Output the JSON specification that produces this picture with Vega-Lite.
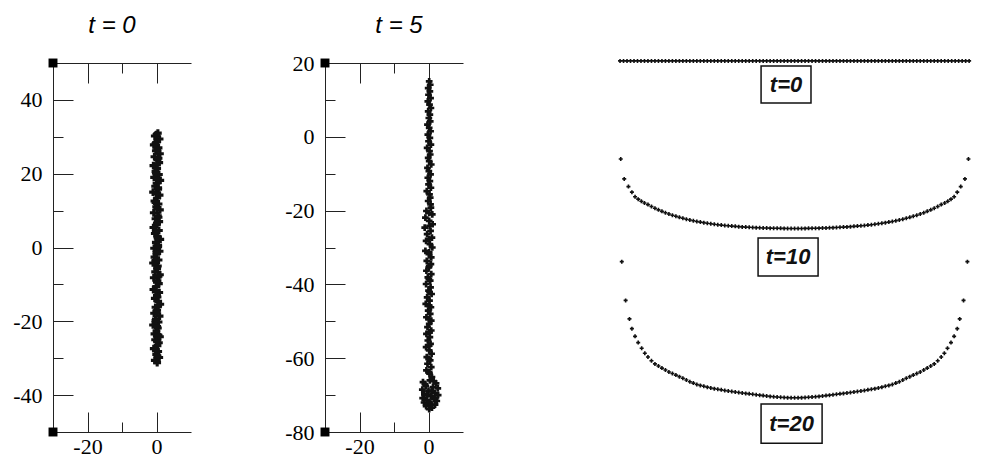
{
"$schema": "https://vega.github.io/schema/vega-lite/v6.json",
"padding": {"left": 12, "top": 13, "right": 5, "bottom": 5},
"background": "white",
"config": {
  "view": {"stroke": null},
  "axis": {"grid": false, "domainColor": "#222", "tickColor": "#222", "domainWidth": 1, "tickWidth": 1, "labelColor": "black", "labelFont": "Liberation Serif", "labelFontSize": 22, "title": null},
  "title": {"font": "Liberation Sans", "fontStyle": "italic", "fontWeight": "normal", "fontSize": 24, "color": "black", "anchor": "middle", "baseline": "alphabetic", "frame": "group"}
},
"datasets": {
  "p1": [
    {"x":0.4,"y":31.0},{"x":-0.5,"y":30.2},{"x":0.9,"y":29.4},{"x":0.1,"y":28.6},{"x":-0.8,"y":27.8},{"x":0.6,"y":27.0},{"x":-0.2,"y":26.2},{"x":1.0,"y":25.4},{"x":-0.6,"y":24.6},{"x":0.3,"y":23.8},
    {"x":0.8,"y":23.0},{"x":-0.9,"y":22.2},{"x":0.2,"y":21.4},{"x":-0.3,"y":20.6},{"x":0.7,"y":19.8},{"x":-0.7,"y":19.0},{"x":1.1,"y":18.2},{"x":0.0,"y":17.4},{"x":-0.4,"y":16.6},{"x":0.5,"y":15.8},
    {"x":-1.0,"y":15.0},{"x":0.9,"y":14.2},{"x":0.2,"y":13.4},{"x":-0.6,"y":12.6},{"x":0.6,"y":11.8},{"x":-0.1,"y":11.0},{"x":1.0,"y":10.2},{"x":-0.8,"y":9.4},{"x":0.4,"y":8.6},{"x":-0.3,"y":7.8},
    {"x":0.8,"y":7.0},{"x":0.1,"y":6.2},{"x":-0.9,"y":5.4},{"x":0.7,"y":4.6},{"x":-0.5,"y":3.8},{"x":0.3,"y":3.0},{"x":1.1,"y":2.2},{"x":-0.2,"y":1.4},{"x":0.5,"y":0.6},{"x":-0.7,"y":-0.2},
    {"x":0.9,"y":-1.0},{"x":0.0,"y":-1.8},{"x":-0.6,"y":-2.6},{"x":0.6,"y":-3.4},{"x":-1.0,"y":-4.2},{"x":0.4,"y":-5.0},{"x":0.2,"y":-5.8},{"x":-0.4,"y":-6.6},{"x":1.0,"y":-7.4},{"x":-0.8,"y":-8.2},
    {"x":0.3,"y":-9.0},{"x":0.7,"y":-9.8},{"x":-0.1,"y":-10.6},{"x":-0.9,"y":-11.4},{"x":0.8,"y":-12.2},{"x":0.1,"y":-13.0},{"x":-0.5,"y":-13.8},{"x":0.5,"y":-14.6},{"x":1.1,"y":-15.4},{"x":-0.3,"y":-16.2},
    {"x":0.2,"y":-17.0},{"x":-0.7,"y":-17.8},{"x":0.9,"y":-18.6},{"x":-0.2,"y":-19.4},{"x":0.6,"y":-20.2},{"x":-1.0,"y":-21.0},{"x":0.4,"y":-21.8},{"x":0.0,"y":-22.6},{"x":-0.6,"y":-23.4},{"x":1.0,"y":-24.2},
    {"x":-0.4,"y":-25.0},{"x":0.7,"y":-25.8},{"x":0.3,"y":-26.6},{"x":-0.8,"y":-27.4},{"x":0.5,"y":-28.2},{"x":-0.1,"y":-29.0},{"x":0.8,"y":-29.8},{"x":-0.5,"y":-30.6},{"x":0.2,"y":-31.2},
    {"x":0.0,"y":30.6},{"x":0.2,"y":26.6},{"x":0.1,"y":22.6},{"x":0.3,"y":18.6},{"x":0.0,"y":14.6},{"x":0.2,"y":10.6},{"x":0.1,"y":6.6},{"x":0.3,"y":2.6},{"x":0.0,"y":-1.4},{"x":0.2,"y":-5.4},
    {"x":0.1,"y":-9.4},{"x":0.3,"y":-13.4},{"x":0.0,"y":-17.4},{"x":0.2,"y":-21.4},{"x":0.1,"y":-25.4},{"x":0.3,"y":-29.4},
    {"x":-0.3,"y":28.2},{"x":0.6,"y":24.2},{"x":-0.2,"y":20.2},{"x":0.5,"y":16.2},{"x":-0.3,"y":12.2},{"x":0.6,"y":8.2},{"x":-0.2,"y":4.2},{"x":0.5,"y":0.2},{"x":-0.3,"y":-3.8},{"x":0.6,"y":-7.8},
    {"x":-0.2,"y":-11.8},{"x":0.5,"y":-15.8},{"x":-0.3,"y":-19.8},{"x":0.6,"y":-23.8},{"x":-0.2,"y":-27.8}
  ],
  "c1": [{"x":-30,"y":50},{"x":-30,"y":-50}],
  "p2": [
    {"x":0.2,"y":15.0},{"x":0.5,"y":14.1},{"x":-0.1,"y":13.2},{"x":0.4,"y":12.3},{"x":0.0,"y":11.4},{"x":0.6,"y":10.5},{"x":-0.2,"y":9.6},{"x":0.3,"y":8.7},{"x":0.7,"y":7.8},{"x":-0.1,"y":6.9},{"x":0.4,"y":6.0},{"x":0.1,"y":5.1},
    {"x":0.5,"y":4.2},{"x":-0.3,"y":3.3},{"x":0.2,"y":2.4},{"x":0.6,"y":1.5},{"x":-0.2,"y":0.6},{"x":0.4,"y":-0.3},{"x":0.0,"y":-1.2},{"x":0.7,"y":-2.1},{"x":-0.4,"y":-3.0},{"x":0.3,"y":-3.9},
    {"x":0.5,"y":-4.8},{"x":-0.1,"y":-5.7},{"x":0.2,"y":-6.6},{"x":0.8,"y":-7.5},{"x":-0.3,"y":-8.4},{"x":0.1,"y":-9.3},{"x":0.6,"y":-10.2},{"x":-0.2,"y":-11.1},{"x":0.4,"y":-12.0},{"x":0.0,"y":-12.9},
    {"x":0.7,"y":-13.8},{"x":-0.5,"y":-14.7},{"x":0.3,"y":-15.6},{"x":0.5,"y":-16.5},{"x":-0.1,"y":-17.4},{"x":0.6,"y":-18.3},
    {"x":0.7,"y":-19.2},{"x":-0.6,"y":-20.1},{"x":1.1,"y":-21.0},{"x":-0.9,"y":-21.9},{"x":0.2,"y":-22.8},{"x":1.2,"y":-23.7},{"x":-1.1,"y":-24.6},{"x":0.6,"y":-25.5},{"x":-0.4,"y":-26.4},{"x":1.0,"y":-27.3},
    {"x":-0.7,"y":-28.2},{"x":0.4,"y":-29.1},{"x":1.1,"y":-30.0},{"x":-0.9,"y":-30.9},{"x":0.1,"y":-31.8},{"x":0.8,"y":-32.7},
    {"x":-0.5,"y":-33.6},{"x":0.7,"y":-34.5},{"x":0.1,"y":-35.4},{"x":-0.6,"y":-36.3},{"x":0.8,"y":-37.2},{"x":-0.2,"y":-38.1},{"x":0.5,"y":-39.0},{"x":-0.7,"y":-39.9},{"x":0.6,"y":-40.8},{"x":0.0,"y":-41.7},
    {"x":0.9,"y":-42.6},{"x":-0.4,"y":-43.5},{"x":0.3,"y":-44.4},{"x":-0.8,"y":-45.3},{"x":0.7,"y":-46.2},{"x":-0.1,"y":-47.1},{"x":0.5,"y":-48.0},{"x":-0.6,"y":-48.9},{"x":0.8,"y":-49.8},{"x":0.2,"y":-50.7},
    {"x":-0.3,"y":-51.6},{"x":0.8,"y":-52.5},{"x":-0.6,"y":-53.4},{"x":0.4,"y":-54.3},{"x":-0.2,"y":-55.2},{"x":0.6,"y":-56.1},{"x":-0.7,"y":-57.0},{"x":0.2,"y":-57.9},{"x":0.9,"y":-58.8},{"x":-0.5,"y":-59.7},
    {"x":0.5,"y":-60.6},{"x":-0.3,"y":-61.5},{"x":0.8,"y":-62.4},{"x":-0.6,"y":-63.3},{"x":0.3,"y":-64.2},{"x":1.0,"y":-65.1},
    {"x":0.2,"y":-20.6},{"x":0.3,"y":-24.1},{"x":0.1,"y":-27.8},{"x":0.2,"y":-31.3},{"x":0.2,"y":-35.0},{"x":0.1,"y":-38.6},{"x":0.3,"y":-42.1},{"x":0.2,"y":-45.8},{"x":0.1,"y":-49.4},{"x":0.3,"y":-53.0},{"x":0.2,"y":-56.6},{"x":0.1,"y":-60.2},{"x":0.2,"y":-63.8},
    {"x":-1.6,"y":-66.5},{"x":0.4,"y":-66.0},{"x":2.2,"y":-66.8},{"x":-0.8,"y":-67.5},{"x":1.3,"y":-67.8},{"x":2.7,"y":-68.2},{"x":-1.8,"y":-68.5},{"x":0.0,"y":-68.8},{"x":1.9,"y":-69.5},{"x":-1.2,"y":-69.8},
    {"x":2.8,"y":-70.0},{"x":0.7,"y":-70.3},{"x":-1.7,"y":-70.8},{"x":1.6,"y":-71.0},{"x":-0.5,"y":-71.4},{"x":2.4,"y":-71.6},{"x":-1.3,"y":-72.0},{"x":0.5,"y":-72.3},{"x":1.9,"y":-72.6},{"x":-0.7,"y":-73.0},
    {"x":1.0,"y":-73.4},{"x":0.2,"y":-73.8},{"x":0.9,"y":-69.0},{"x":-0.4,"y":-70.0},{"x":2.0,"y":-70.9},{"x":0.3,"y":-71.8},{"x":-1.0,"y":-67.0},{"x":1.5,"y":-66.2}
  ],
  "c2": [{"x":-30,"y":20},{"x":-30,"y":-80}],
  "chain": [
    {"t":0,"x":-50,"y":0.6},{"t":0,"x":-49,"y":0.6},{"t":0,"x":-48,"y":0.6},{"t":0,"x":-47,"y":0.6},{"t":0,"x":-46,"y":0.6},{"t":0,"x":-45,"y":0.6},{"t":0,"x":-44,"y":0.6},{"t":0,"x":-43,"y":0.6},{"t":0,"x":-42,"y":0.6},{"t":0,"x":-41,"y":0.6},
    {"t":0,"x":-40,"y":0.6},{"t":0,"x":-39,"y":0.6},{"t":0,"x":-38,"y":0.6},{"t":0,"x":-37,"y":0.6},{"t":0,"x":-36,"y":0.6},{"t":0,"x":-35,"y":0.6},{"t":0,"x":-34,"y":0.6},{"t":0,"x":-33,"y":0.6},{"t":0,"x":-32,"y":0.6},{"t":0,"x":-31,"y":0.6},
    {"t":0,"x":-30,"y":0.6},{"t":0,"x":-29,"y":0.6},{"t":0,"x":-28,"y":0.6},{"t":0,"x":-27,"y":0.6},{"t":0,"x":-26,"y":0.6},{"t":0,"x":-25,"y":0.6},{"t":0,"x":-24,"y":0.6},{"t":0,"x":-23,"y":0.6},{"t":0,"x":-22,"y":0.6},{"t":0,"x":-21,"y":0.6},
    {"t":0,"x":-20,"y":0.6},{"t":0,"x":-19,"y":0.6},{"t":0,"x":-18,"y":0.6},{"t":0,"x":-17,"y":0.6},{"t":0,"x":-16,"y":0.6},{"t":0,"x":-15,"y":0.6},{"t":0,"x":-14,"y":0.6},{"t":0,"x":-13,"y":0.6},{"t":0,"x":-12,"y":0.6},{"t":0,"x":-11,"y":0.6},
    {"t":0,"x":-10,"y":0.6},{"t":0,"x":-9,"y":0.6},{"t":0,"x":-8,"y":0.6},{"t":0,"x":-7,"y":0.6},{"t":0,"x":-6,"y":0.6},{"t":0,"x":-5,"y":0.6},{"t":0,"x":-4,"y":0.6},{"t":0,"x":-3,"y":0.6},{"t":0,"x":-2,"y":0.6},{"t":0,"x":-1,"y":0.6},
    {"t":0,"x":0,"y":0.6},{"t":0,"x":1,"y":0.6},{"t":0,"x":2,"y":0.6},{"t":0,"x":3,"y":0.6},{"t":0,"x":4,"y":0.6},{"t":0,"x":5,"y":0.6},{"t":0,"x":6,"y":0.6},{"t":0,"x":7,"y":0.6},{"t":0,"x":8,"y":0.6},{"t":0,"x":9,"y":0.6},
    {"t":0,"x":10,"y":0.6},{"t":0,"x":11,"y":0.6},{"t":0,"x":12,"y":0.6},{"t":0,"x":13,"y":0.6},{"t":0,"x":14,"y":0.6},{"t":0,"x":15,"y":0.6},{"t":0,"x":16,"y":0.6},{"t":0,"x":17,"y":0.6},{"t":0,"x":18,"y":0.6},{"t":0,"x":19,"y":0.6},
    {"t":0,"x":20,"y":0.6},{"t":0,"x":21,"y":0.6},{"t":0,"x":22,"y":0.6},{"t":0,"x":23,"y":0.6},{"t":0,"x":24,"y":0.6},{"t":0,"x":25,"y":0.6},{"t":0,"x":26,"y":0.6},{"t":0,"x":27,"y":0.6},{"t":0,"x":28,"y":0.6},{"t":0,"x":29,"y":0.6},
    {"t":0,"x":30,"y":0.6},{"t":0,"x":31,"y":0.6},{"t":0,"x":32,"y":0.6},{"t":0,"x":33,"y":0.6},{"t":0,"x":34,"y":0.6},{"t":0,"x":35,"y":0.6},{"t":0,"x":36,"y":0.6},{"t":0,"x":37,"y":0.6},{"t":0,"x":38,"y":0.6},{"t":0,"x":39,"y":0.6},
    {"t":0,"x":40,"y":0.6},{"t":0,"x":41,"y":0.6},{"t":0,"x":42,"y":0.6},{"t":0,"x":43,"y":0.6},{"t":0,"x":44,"y":0.6},{"t":0,"x":45,"y":0.6},{"t":0,"x":46,"y":0.6},{"t":0,"x":47,"y":0.6},{"t":0,"x":48,"y":0.6},{"t":0,"x":49,"y":0.6},
    {"t":0,"x":50,"y":0.6},

    {"t":10,"x":-49.8,"y":-27.5},{"t":10,"x":-48.8,"y":-33.2},{"t":10,"x":-47.6,"y":-35.4},{"t":10,"x":-46.6,"y":-37.0},{"t":10,"x":-45.7,"y":-38.3},{"t":10,"x":-44.8,"y":-39.0},{"t":10,"x":-43.9,"y":-39.6},{"t":10,"x":-43.0,"y":-40.1},
    {"t":10,"x":-42,"y":-40.56},{"t":10,"x":-41,"y":-41.10},{"t":10,"x":-40,"y":-41.60},{"t":10,"x":-39,"y":-42.06},{"t":10,"x":-38,"y":-42.49},{"t":10,"x":-37,"y":-42.89},{"t":10,"x":-36,"y":-43.26},{"t":10,"x":-35,"y":-43.60},{"t":10,"x":-34,"y":-43.92},{"t":10,"x":-33,"y":-44.21},
    {"t":10,"x":-32,"y":-44.48},{"t":10,"x":-31,"y":-44.74},{"t":10,"x":-30,"y":-44.97},{"t":10,"x":-29,"y":-45.19},{"t":10,"x":-28,"y":-45.39},{"t":10,"x":-27,"y":-45.57},{"t":10,"x":-26,"y":-45.74},{"t":10,"x":-25,"y":-45.90},{"t":10,"x":-24,"y":-46.05},{"t":10,"x":-23,"y":-46.19},
    {"t":10,"x":-22,"y":-46.32},{"t":10,"x":-21,"y":-46.43},{"t":10,"x":-20,"y":-46.53},{"t":10,"x":-19,"y":-46.63},{"t":10,"x":-18,"y":-46.72},{"t":10,"x":-17,"y":-46.80},{"t":10,"x":-16,"y":-46.88},{"t":10,"x":-15,"y":-46.95},{"t":10,"x":-14,"y":-47.01},{"t":10,"x":-13,"y":-47.07},
    {"t":10,"x":-12,"y":-47.12},{"t":10,"x":-11,"y":-47.17},{"t":10,"x":-10,"y":-47.21},{"t":10,"x":-9,"y":-47.25},{"t":10,"x":-8,"y":-47.28},{"t":10,"x":-7,"y":-47.31},{"t":10,"x":-6,"y":-47.33},{"t":10,"x":-5,"y":-47.35},{"t":10,"x":-4,"y":-47.37},{"t":10,"x":-3,"y":-47.38},
    {"t":10,"x":-2,"y":-47.39},{"t":10,"x":-1,"y":-47.40},{"t":10,"x":0,"y":-47.40},{"t":10,"x":1,"y":-47.40},{"t":10,"x":2,"y":-47.39},{"t":10,"x":3,"y":-47.38},{"t":10,"x":4,"y":-47.37},{"t":10,"x":5,"y":-47.35},{"t":10,"x":6,"y":-47.33},{"t":10,"x":7,"y":-47.31},
    {"t":10,"x":8,"y":-47.28},{"t":10,"x":9,"y":-47.25},{"t":10,"x":10,"y":-47.21},{"t":10,"x":11,"y":-47.17},{"t":10,"x":12,"y":-47.12},{"t":10,"x":13,"y":-47.07},{"t":10,"x":14,"y":-47.01},{"t":10,"x":15,"y":-46.95},{"t":10,"x":16,"y":-46.88},{"t":10,"x":17,"y":-46.80},
    {"t":10,"x":18,"y":-46.72},{"t":10,"x":19,"y":-46.63},{"t":10,"x":20,"y":-46.53},{"t":10,"x":21,"y":-46.43},{"t":10,"x":22,"y":-46.32},{"t":10,"x":23,"y":-46.19},{"t":10,"x":24,"y":-46.05},{"t":10,"x":25,"y":-45.90},{"t":10,"x":26,"y":-45.74},{"t":10,"x":27,"y":-45.57},
    {"t":10,"x":28,"y":-45.39},{"t":10,"x":29,"y":-45.19},{"t":10,"x":30,"y":-44.97},{"t":10,"x":31,"y":-44.74},{"t":10,"x":32,"y":-44.48},{"t":10,"x":33,"y":-44.21},{"t":10,"x":34,"y":-43.92},{"t":10,"x":35,"y":-43.60},{"t":10,"x":36,"y":-43.26},{"t":10,"x":37,"y":-42.89},
    {"t":10,"x":38,"y":-42.49},{"t":10,"x":39,"y":-42.06},{"t":10,"x":40,"y":-41.60},{"t":10,"x":41,"y":-41.10},{"t":10,"x":42,"y":-40.56},
    {"t":10,"x":43.0,"y":-40.1},{"t":10,"x":43.9,"y":-39.6},{"t":10,"x":44.8,"y":-39.0},{"t":10,"x":45.7,"y":-38.3},{"t":10,"x":46.6,"y":-37.0},{"t":10,"x":47.6,"y":-35.4},{"t":10,"x":48.8,"y":-33.2},{"t":10,"x":49.8,"y":-27.5},

    {"t":20,"x":-49.5,"y":-56.9},{"t":20,"x":-48.4,"y":-68.0},{"t":20,"x":-47.3,"y":-73.3},{"t":20,"x":-46.6,"y":-76.1},{"t":20,"x":-45.7,"y":-78.3},{"t":20,"x":-44.8,"y":-80.1},{"t":20,"x":-43.8,"y":-81.7},{"t":20,"x":-42.9,"y":-83.15},
    {"t":20,"x":-42,"y":-84.20},{"t":20,"x":-41,"y":-85.30},{"t":20,"x":-40,"y":-86.20},{"t":20,"x":-39,"y":-86.80},{"t":20,"x":-38,"y":-87.40},{"t":20,"x":-37,"y":-87.95},{"t":20,"x":-36,"y":-88.50},{"t":20,"x":-35,"y":-88.95},{"t":20,"x":-34,"y":-89.40},{"t":20,"x":-33,"y":-89.85},
    {"t":20,"x":-32,"y":-90.30},{"t":20,"x":-31,"y":-90.80},{"t":20,"x":-30,"y":-91.30},{"t":20,"x":-29,"y":-91.70},{"t":20,"x":-28,"y":-92.10},{"t":20,"x":-27,"y":-92.35},{"t":20,"x":-26,"y":-92.60},{"t":20,"x":-25,"y":-92.85},{"t":20,"x":-24,"y":-93.10},{"t":20,"x":-23,"y":-93.28},
    {"t":20,"x":-22,"y":-93.45},{"t":20,"x":-21,"y":-93.63},{"t":20,"x":-20,"y":-93.80},{"t":20,"x":-19,"y":-93.95},{"t":20,"x":-18,"y":-94.10},{"t":20,"x":-17,"y":-94.25},{"t":20,"x":-16,"y":-94.40},{"t":20,"x":-15,"y":-94.53},{"t":20,"x":-14,"y":-94.65},{"t":20,"x":-13,"y":-94.78},
    {"t":20,"x":-12,"y":-94.90},{"t":20,"x":-11,"y":-95.03},{"t":20,"x":-10,"y":-95.15},{"t":20,"x":-9,"y":-95.28},{"t":20,"x":-8,"y":-95.40},{"t":20,"x":-7,"y":-95.50},{"t":20,"x":-6,"y":-95.59},{"t":20,"x":-5,"y":-95.68},{"t":20,"x":-4,"y":-95.75},{"t":20,"x":-3,"y":-95.82},
    {"t":20,"x":-2,"y":-95.86},{"t":20,"x":-1,"y":-95.89},{"t":20,"x":0,"y":-95.90},{"t":20,"x":1,"y":-95.89},{"t":20,"x":2,"y":-95.86},{"t":20,"x":3,"y":-95.82},{"t":20,"x":4,"y":-95.75},{"t":20,"x":5,"y":-95.68},{"t":20,"x":6,"y":-95.59},{"t":20,"x":7,"y":-95.50},
    {"t":20,"x":8,"y":-95.40},{"t":20,"x":9,"y":-95.28},{"t":20,"x":10,"y":-95.15},{"t":20,"x":11,"y":-95.03},{"t":20,"x":12,"y":-94.90},{"t":20,"x":13,"y":-94.78},{"t":20,"x":14,"y":-94.65},{"t":20,"x":15,"y":-94.53},{"t":20,"x":16,"y":-94.40},{"t":20,"x":17,"y":-94.25},
    {"t":20,"x":18,"y":-94.10},{"t":20,"x":19,"y":-93.95},{"t":20,"x":20,"y":-93.80},{"t":20,"x":21,"y":-93.63},{"t":20,"x":22,"y":-93.45},{"t":20,"x":23,"y":-93.28},{"t":20,"x":24,"y":-93.10},{"t":20,"x":25,"y":-92.85},{"t":20,"x":26,"y":-92.60},{"t":20,"x":27,"y":-92.35},
    {"t":20,"x":28,"y":-92.10},{"t":20,"x":29,"y":-91.70},{"t":20,"x":30,"y":-91.30},{"t":20,"x":31,"y":-90.80},{"t":20,"x":32,"y":-90.30},{"t":20,"x":33,"y":-89.85},{"t":20,"x":34,"y":-89.40},{"t":20,"x":35,"y":-88.95},{"t":20,"x":36,"y":-88.50},{"t":20,"x":37,"y":-87.95},
    {"t":20,"x":38,"y":-87.40},{"t":20,"x":39,"y":-86.80},{"t":20,"x":40,"y":-86.20},{"t":20,"x":41,"y":-85.30},{"t":20,"x":42,"y":-84.20},
    {"t":20,"x":42.9,"y":-83.15},{"t":20,"x":43.8,"y":-81.7},{"t":20,"x":44.8,"y":-80.1},{"t":20,"x":45.7,"y":-78.3},{"t":20,"x":46.6,"y":-76.1},{"t":20,"x":47.3,"y":-73.3},{"t":20,"x":48.4,"y":-68.0},{"t":20,"x":49.5,"y":-56.9}
  ],
  "boxes": [
    {"label":"t=0","x1":-9.6,"x2":4.7,"y1":-0.86,"y2":-11.46,"xc":-2.45,"yc":-6.16},
    {"label":"t=10","x1":-10.46,"x2":6.73,"y1":-50.14,"y2":-61.03,"xc":-1.86,"yc":-55.6},
    {"label":"t=20","x1":-9.6,"x2":7.88,"y1":-97.7,"y2":-108.9,"xc":-0.86,"yc":-103.3}
  ]
},
"bounds": "flush",
"spacing": 134,
"hconcat": [
  {
    "width": 138, "height": 369,
    "title": {"text": "t = 0", "offset": 21, "dx": -10},
    "resolve": {"axis": {"x": "independent", "y": "independent"}},
    "layer": [
      {
        "data": {"name": "p1"},
        "mark": {"type": "point", "shape": "cross", "filled": true, "size": 60, "color": "#111", "opacity": 1},
        "encoding": {
          "x": {"field": "x", "type": "quantitative", "scale": {"domain": [-30, 10], "nice": false, "zero": false},
                "axis": {"orient": "bottom", "values": [-20, -10, 0], "tickSize": {"condition": {"test": "datum.value % 20 === 0", "value": -20}, "value": -10}, "labelExpr": "datum.value % 20 === 0 ? '' + datum.value : ''", "labelPadding": 24}},
          "y": {"field": "y", "type": "quantitative", "scale": {"domain": [-50, 50], "nice": false, "zero": false},
                "axis": {"orient": "left", "values": [-40, -30, -20, -10, 0, 10, 20, 30, 40], "tickSize": {"condition": {"test": "datum.value % 20 === 0", "value": -20}, "value": -10}, "labelExpr": "datum.value % 20 === 0 ? '' + datum.value : ''", "labelPadding": 31}}
        }
      },
      {
        "data": {"name": "c1"},
        "mark": {"type": "square", "size": 80, "color": "black", "opacity": 1},
        "encoding": {
          "x": {"field": "x", "type": "quantitative", "axis": {"orient": "top", "values": [-20, -10, 0], "labels": false, "tickSize": {"condition": {"test": "datum.value % 20 === 0", "value": -20}, "value": -10}}},
          "y": {"field": "y", "type": "quantitative", "axis": null}
        }
      }
    ]
  },
  {
    "width": 138, "height": 369,
    "title": {"text": "t = 5", "offset": 14, "dx": 5},
    "resolve": {"axis": {"x": "independent", "y": "independent"}},
    "layer": [
      {
        "data": {"name": "p2"},
        "mark": {"type": "point", "shape": "cross", "filled": true, "size": 45, "color": "#111", "opacity": 1},
        "encoding": {
          "x": {"field": "x", "type": "quantitative", "scale": {"domain": [-30, 10], "nice": false, "zero": false},
                "axis": {"orient": "bottom", "values": [-20, -10, 0], "tickSize": {"condition": {"test": "datum.value % 20 === 0", "value": -20}, "value": -10}, "labelExpr": "datum.value % 20 === 0 ? '' + datum.value : ''", "labelPadding": 24}},
          "y": {"field": "y", "type": "quantitative", "scale": {"domain": [-80, 20], "nice": false, "zero": false},
                "axis": {"orient": "left", "values": [-80, -70, -60, -50, -40, -30, -20, -10, 0, 10, 20], "tickSize": {"condition": {"test": "datum.value % 20 === 0", "value": -20}, "value": -10}, "labelExpr": "datum.value % 20 === 0 ? '' + datum.value : ''", "labelPadding": 31}}
        }
      },
      {
        "data": {"name": "c2"},
        "mark": {"type": "square", "size": 80, "color": "black", "opacity": 1},
        "encoding": {
          "x": {"field": "x", "type": "quantitative", "axis": {"orient": "top", "values": [-20, -10, 0], "labels": false, "tickSize": {"condition": {"test": "datum.value % 20 === 0", "value": -20}, "value": -10}}},
          "y": {"field": "y", "type": "quantitative", "axis": null}
        }
      }
    ]
  },
  {
    "width": 384, "height": 384,
    "layer": [
      {
        "data": {"name": "chain"},
        "mark": {"type": "point", "shape": "cross", "filled": true, "size": 16, "color": "#111", "opacity": 1},
        "encoding": {
          "x": {"field": "x", "type": "quantitative", "scale": {"domain": [-56.6, 53.4], "nice": false, "zero": false}, "axis": null},
          "y": {"field": "y", "type": "quantitative", "scale": {"domain": [-110, 0], "nice": false, "zero": false}, "axis": null}
        }
      },
      {
        "data": {"name": "boxes"},
        "mark": {"type": "rect", "fill": "white", "stroke": "#111", "strokeWidth": 1.5},
        "encoding": {
          "x": {"field": "x1", "type": "quantitative"},
          "x2": {"field": "x2"},
          "y": {"field": "y1", "type": "quantitative"},
          "y2": {"field": "y2"}
        }
      },
      {
        "data": {"name": "boxes"},
        "mark": {"type": "text", "font": "Liberation Sans", "fontWeight": "bold", "fontStyle": "italic", "fontSize": 22, "color": "#111", "align": "center", "baseline": "middle"},
        "encoding": {
          "x": {"field": "xc", "type": "quantitative"},
          "y": {"field": "yc", "type": "quantitative"},
          "text": {"field": "label"}
        }
      }
    ]
  }
]
}
